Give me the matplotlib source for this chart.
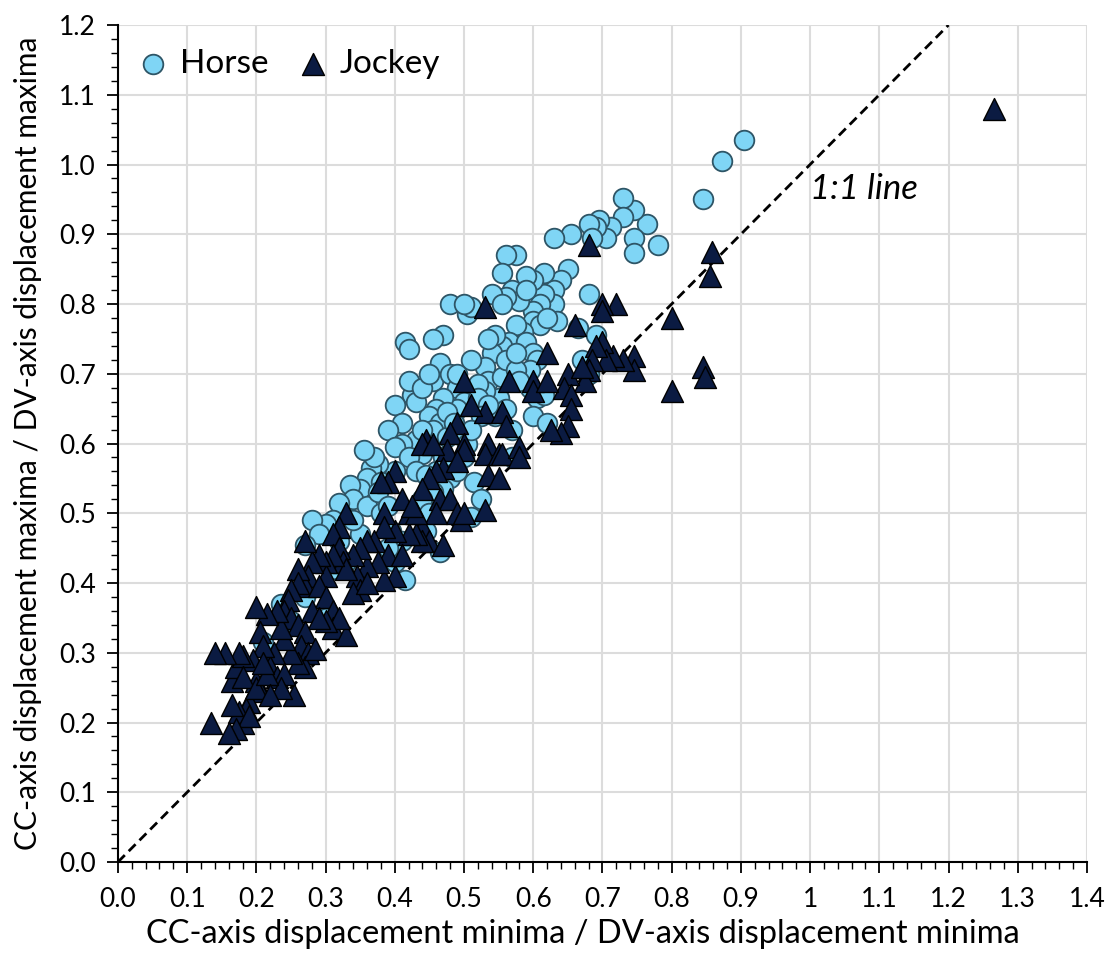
import matplotlib.pyplot as plt
from matplotlib.ticker import MultipleLocator, FixedLocator, FixedFormatter
import numpy as np

# Horse: (minima ratio, maxima ratio)
horse_x = [0.905, 0.872, 0.845, 0.78, 0.765, 0.745, 0.745, 0.745, 0.73, 0.73,
           0.712, 0.705, 0.695, 0.69, 0.68, 0.685, 0.68, 0.665, 0.655, 0.63,
           0.65, 0.64, 0.63, 0.63, 0.615, 0.615, 0.61, 0.6, 0.6, 0.59,
           0.575, 0.56, 0.555, 0.57, 0.58, 0.56, 0.54, 0.555, 0.59, 0.6,
           0.61, 0.635, 0.62, 0.585, 0.575, 0.565, 0.555, 0.545, 0.54, 0.535,
           0.53, 0.59, 0.6, 0.605, 0.595, 0.595, 0.605, 0.6, 0.62, 0.615,
           0.67, 0.68, 0.69, 0.55, 0.545, 0.56, 0.57, 0.57, 0.535, 0.53,
           0.51, 0.505, 0.51, 0.48, 0.5, 0.47, 0.455, 0.465, 0.455, 0.48,
           0.49, 0.5, 0.49, 0.47, 0.46, 0.45, 0.465, 0.455, 0.475, 0.5,
           0.505, 0.5, 0.515, 0.525, 0.51, 0.48, 0.47, 0.46, 0.455, 0.44,
           0.45, 0.465, 0.445, 0.44, 0.43, 0.44, 0.425, 0.42, 0.43, 0.44,
           0.415, 0.42, 0.4, 0.41, 0.39, 0.41, 0.4, 0.42, 0.43, 0.4,
           0.375, 0.365, 0.37, 0.355, 0.36, 0.38, 0.35, 0.335, 0.34, 0.32,
           0.36, 0.38, 0.31, 0.3, 0.28, 0.29, 0.27, 0.35, 0.395, 0.41,
           0.415, 0.4, 0.39, 0.33, 0.31, 0.3, 0.235, 0.21, 0.25, 0.27,
           0.45, 0.49, 0.52, 0.52, 0.535, 0.525, 0.51, 0.475, 0.485, 0.555,
           0.56, 0.575, 0.575, 0.58, 0.49, 0.47, 0.445, 0.375, 0.39, 0.34,
           0.32]
horse_y = [1.035, 1.005, 0.95, 0.885, 0.915, 0.935, 0.895, 0.873, 0.952, 0.925,
           0.91, 0.895, 0.92, 0.91, 0.915, 0.895, 0.815, 0.765, 0.9, 0.895,
           0.85, 0.835, 0.82, 0.8, 0.845, 0.815, 0.8, 0.79, 0.835, 0.84,
           0.87, 0.87, 0.845, 0.82, 0.805, 0.81, 0.815, 0.8, 0.82, 0.775,
           0.77, 0.775, 0.78, 0.76, 0.77, 0.745, 0.74, 0.755, 0.73, 0.75,
           0.71, 0.745, 0.73, 0.72, 0.705, 0.68, 0.665, 0.64, 0.63, 0.67,
           0.72, 0.7, 0.755, 0.665, 0.64, 0.65, 0.62, 0.58, 0.69, 0.675,
           0.72, 0.785, 0.795, 0.8, 0.8, 0.755, 0.75, 0.715, 0.69, 0.7,
           0.68, 0.66, 0.65, 0.665, 0.65, 0.64, 0.63, 0.62, 0.61, 0.615,
           0.6, 0.58, 0.545, 0.52, 0.495, 0.55, 0.535, 0.56, 0.53, 0.52,
           0.5, 0.445, 0.475, 0.585, 0.605, 0.62, 0.67, 0.69, 0.66, 0.68,
           0.745, 0.735, 0.655, 0.63, 0.62, 0.6, 0.595, 0.58, 0.56, 0.56,
           0.57, 0.565, 0.58, 0.59, 0.55, 0.545, 0.535, 0.54, 0.52, 0.515,
           0.51, 0.5, 0.49, 0.485, 0.49, 0.47, 0.455, 0.47, 0.475, 0.46,
           0.405, 0.43, 0.45, 0.43, 0.42, 0.35, 0.37, 0.315, 0.345, 0.38,
           0.7, 0.7, 0.685, 0.665, 0.655, 0.64, 0.62, 0.645, 0.63, 0.695,
           0.72, 0.705, 0.73, 0.69, 0.56, 0.58, 0.555, 0.53, 0.51, 0.49,
           0.46]

# Jockey
jockey_x = [1.265, 0.858, 0.855, 0.845, 0.848, 0.8, 0.8, 0.745, 0.745, 0.73,
            0.715, 0.72, 0.7, 0.7, 0.7, 0.705, 0.69, 0.685, 0.68, 0.675,
            0.68, 0.66, 0.65, 0.645, 0.655, 0.655, 0.65, 0.64, 0.625, 0.62,
            0.6, 0.6, 0.53, 0.565, 0.53, 0.555, 0.56, 0.535, 0.53, 0.55,
            0.535, 0.53, 0.555, 0.58, 0.5, 0.51, 0.49, 0.48, 0.5, 0.5,
            0.475, 0.47, 0.49, 0.46, 0.45, 0.445, 0.44, 0.455, 0.44, 0.465,
            0.48, 0.49, 0.495, 0.46, 0.44, 0.45, 0.44, 0.43, 0.42, 0.4,
            0.41, 0.42, 0.43, 0.425, 0.4, 0.39, 0.38, 0.385, 0.385, 0.37,
            0.36, 0.39, 0.4, 0.385, 0.375, 0.36, 0.35, 0.34, 0.345, 0.35,
            0.34, 0.33, 0.32, 0.31, 0.32, 0.325, 0.33, 0.31, 0.3, 0.3,
            0.29, 0.28, 0.275, 0.27, 0.29, 0.3, 0.31, 0.31, 0.33, 0.32,
            0.3, 0.28, 0.29, 0.27, 0.26, 0.26, 0.25, 0.245, 0.24, 0.25,
            0.26, 0.27, 0.265, 0.275, 0.27, 0.26, 0.255, 0.25, 0.24, 0.235,
            0.23, 0.225, 0.22, 0.23, 0.24, 0.235, 0.215, 0.2, 0.205, 0.21,
            0.195, 0.2, 0.205, 0.19, 0.185, 0.18, 0.175, 0.19, 0.17, 0.16,
            0.165, 0.165, 0.17, 0.18, 0.175, 0.155, 0.14, 0.135, 0.18, 0.2,
            0.215, 0.22, 0.21, 0.285, 0.36, 0.41, 0.47, 0.5, 0.55, 0.58,
            0.62, 0.67]
jockey_y = [1.08, 0.875, 0.84, 0.71, 0.695, 0.78, 0.675, 0.725, 0.705, 0.72,
            0.725, 0.8, 0.8, 0.79, 0.745, 0.72, 0.74, 0.72, 0.705, 0.69,
            0.885, 0.77, 0.7, 0.68, 0.67, 0.65, 0.625, 0.615, 0.62, 0.73,
            0.69, 0.675, 0.795, 0.69, 0.645, 0.645, 0.625, 0.6, 0.585, 0.585,
            0.555, 0.505, 0.585, 0.595, 0.69, 0.655, 0.63, 0.615, 0.6, 0.59,
            0.59, 0.565, 0.575, 0.56, 0.55, 0.605, 0.6, 0.6, 0.535, 0.52,
            0.52, 0.5, 0.49, 0.5, 0.48, 0.46, 0.46, 0.47, 0.47, 0.475,
            0.52, 0.5, 0.5, 0.51, 0.56, 0.545, 0.545, 0.5, 0.48, 0.46,
            0.46, 0.44, 0.41, 0.405, 0.43, 0.425, 0.45, 0.44, 0.41, 0.39,
            0.385, 0.5, 0.48, 0.47, 0.45, 0.43, 0.42, 0.44, 0.43, 0.41,
            0.44, 0.43, 0.41, 0.395, 0.395, 0.38, 0.36, 0.335, 0.325, 0.35,
            0.345, 0.36, 0.35, 0.46, 0.42, 0.4, 0.39, 0.375, 0.36, 0.35,
            0.34, 0.33, 0.31, 0.3, 0.28, 0.285, 0.24, 0.3, 0.32, 0.335,
            0.36, 0.3, 0.28, 0.265, 0.27, 0.25, 0.355, 0.365, 0.33, 0.31,
            0.29, 0.26, 0.245, 0.23, 0.22, 0.2, 0.215, 0.21, 0.19, 0.185,
            0.225, 0.26, 0.28, 0.295, 0.3, 0.3, 0.3, 0.2, 0.265, 0.25,
            0.27, 0.24, 0.285, 0.305, 0.4, 0.44, 0.455, 0.5, 0.55, 0.58,
            0.69, 0.71]

x_ticks = [0.0, 0.1, 0.2, 0.3, 0.4, 0.5, 0.6, 0.7, 0.8, 0.9, 1.0, 1.1, 1.2, 1.3, 1.4]
x_ticklabels = ["0.0", "0.1", "0.2", "0.3", "0.4", "0.5", "0.6", "0.7", "0.8",
                "0.9", "1", "1.1", "1.2", "1.3", "1.4"]

plt.rcParams['font.family'] = ['Lato', 'DejaVu Sans']

fig = plt.figure(figsize=(11.17, 9.58), dpi=100)
ax = fig.add_axes([0.1056, 0.1002, 0.8675, 0.8737])

ax.plot([0, 1.2], [0, 1.2], linestyle=(0, (3.5, 2)), color="black", lw=2, zorder=2)
ax.scatter(horse_x, horse_y, s=200, marker="o", facecolor="#7fd5f5",
           edgecolor="#2e5566", linewidth=1.3, zorder=3, label="Horse")
ax.scatter(jockey_x, jockey_y, s=250, marker="^", facecolor="#0b1b42",
           edgecolor="black", linewidth=1.0, zorder=4, label="Jockey")

ax.text(1.0, 0.965, "1:1 line", fontsize=25, style="italic", va="center")

ax.set_xlim(0, 1.4)
ax.set_ylim(0, 1.2)
ax.xaxis.set_major_locator(FixedLocator(x_ticks))
ax.xaxis.set_major_formatter(FixedFormatter(x_ticklabels))
ax.xaxis.set_minor_locator(MultipleLocator(0.02))
ax.yaxis.set_major_locator(MultipleLocator(0.1))
ax.yaxis.set_minor_locator(MultipleLocator(0.02))
ax.yaxis.set_major_formatter(plt.FuncFormatter(lambda v, p: "%.1f" % v))

ax.grid(True, which="major", color="#dcdcdc", lw=1.5, zorder=0)
ax.set_axisbelow(True)
for s in ["top", "right"]:
    ax.spines[s].set_visible(False)
for s in ["left", "bottom"]:
    ax.spines[s].set_linewidth(1.5)
    ax.spines[s].set_color("black")
ax.tick_params(which="major", length=8, width=1.3, labelsize=19)
ax.tick_params(axis="x", which="major", pad=10)
ax.tick_params(axis="y", which="major", pad=8)
ax.tick_params(which="minor", length=5, width=1.0)

ax.set_xlabel("CC-axis displacement minima / DV-axis displacement minima", fontsize=23.5)
ax.xaxis.set_label_coords(0.48, -0.068)
ax.set_ylabel("CC-axis displacement maxima / DV-axis displacement maxima", fontsize=21.5)
ax.yaxis.set_label_coords(-0.078, 0.5)

ax.legend(loc="upper left", ncol=2, frameon=False, fontsize=24, handletextpad=0.35,
          handlelength=0.9, columnspacing=0.9, borderaxespad=0.2, markerscale=1.0,
          bbox_to_anchor=(0.0, 0.995))

plt.savefig("out.png", dpi=100)
